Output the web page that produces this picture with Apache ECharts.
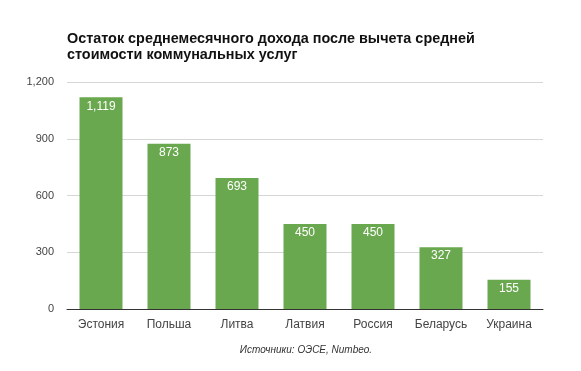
<!DOCTYPE html>
<html><head><meta charset="utf-8">
<script src="https://cdn.jsdelivr.net/npm/echarts@6/dist/echarts.min.js"></script>
<style>html,body{margin:0;padding:0;background:#fff}#c{width:581px;height:371px}</style>
</head><body><div id="c"></div>
<script>
const categories = ['Эстония','Польша','Литва','Латвия','Россия','Беларусь','Украина'];
const values = [1119, 873, 693, 450, 450, 327, 155];
const yTicks = [0, 300, 600, 900, 1200];
const titleText = 'Остаток среднемесячного дохода после вычета средней\nстоимости коммунальных услуг';
const sourceText = 'Источники: ОЭСЕ, Numbeo.';

const chart = echarts.init(document.getElementById('c'), null, {renderer:'canvas'});
const fmt = v => v.toLocaleString('en-US');
chart.setOption({
  animation:false,
  backgroundColor:'#fff',
  textStyle:{fontFamily:'Liberation Sans, Arial, sans-serif'},
  title:[{
    text:titleText, left:67, top:31, padding:0,
    textStyle:{fontSize:14.4, fontWeight:'bold', color:'#111', lineHeight:16, fontFamily:'Liberation Sans, Arial, sans-serif'}
  },{
    text:sourceText, left:306, top:345, textAlign:'center', padding:0,
    textStyle:{fontSize:10, fontStyle:'italic', fontWeight:'normal', color:'#333', fontFamily:'Liberation Sans, Arial, sans-serif'}
  }],
  grid:{left:67, right:38, top:82, bottom:62, containLabel:false},
  xAxis:{
    type:'category', data:categories,
    axisLine:{lineStyle:{color:'#333', width:1}},
    axisTick:{show:false},
    axisLabel:{color:'#444', fontSize:12, margin:10, interval:0}
  },
  yAxis:{
    type:'value', min:yTicks[0], max:yTicks[yTicks.length-1], interval:300,
    axisLine:{show:false}, axisTick:{show:false},
    splitLine:{lineStyle:{color:'#d6d6d6'}},
    axisLabel:{color:'#444', fontSize:11, margin:13, formatter:v=>fmt(v)}
  },
  series:[{
    type:'bar', data:values, barWidth:43,
    itemStyle:{color:'#6aa84f'},
    label:{show:true, position:'insideTop', color:'#fff', fontSize:12, distance:3, formatter:p=>fmt(p.value)}
  }]
});
</script></body></html>
